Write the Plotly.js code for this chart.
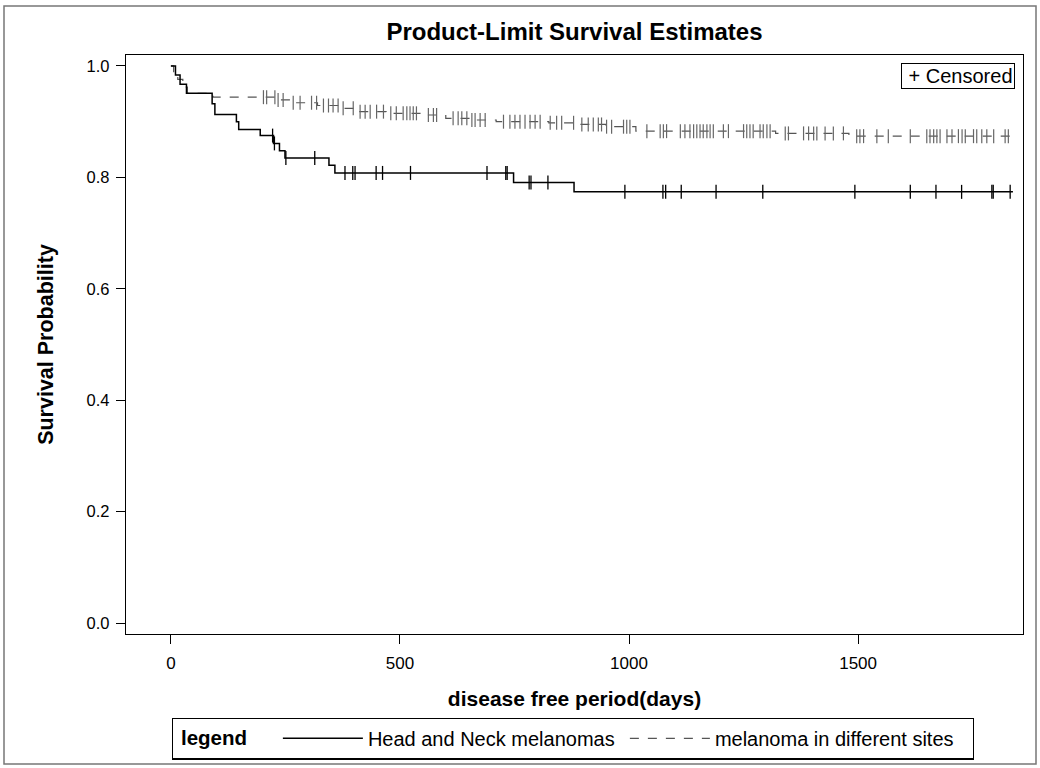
<!DOCTYPE html>
<html>
<head>
<meta charset="utf-8">
<script src="https://cdn.plot.ly/plotly-3.0.1.min.js"></script>
<style>
  html, body { margin: 0; padding: 0; background: #fff; }
  #chart { width: 1040px; height: 768px; }
</style>
</head>
<body>
<div id="chart"></div>
<script>
// ---- Data ----
// Head and Neck melanomas: Kaplan-Meier step points (day, survival after step)
const hnDays = [0, 10, 20, 34, 90, 96, 143, 148, 195, 224, 237, 249, 345, 358, 748, 880];
const hnSurv = [1.0, 0.984, 0.967, 0.951, 0.932, 0.913, 0.900, 0.886, 0.875, 0.861, 0.848, 0.835, 0.822, 0.808, 0.791, 0.774];
const hnEnd = 1838;
const hnCensor = [222, 226, 251, 314, 380, 397, 402, 448, 462, 523, 690, 731, 734, 782, 786, 823, 991, 1074, 1080, 1114, 1190, 1292, 1493, 1614, 1670, 1726, 1792, 1795, 1832];

// Melanoma in different sites
const othDays = [0, 6, 15, 26, 36, 92, 230, 262, 320, 370, 410, 470, 550, 600, 655, 710, 825, 880, 950, 1015, 1320, 1480];
const othSurv = [1.0, 0.988, 0.976, 0.962, 0.951, 0.944, 0.939, 0.934, 0.929, 0.924, 0.918, 0.915, 0.912, 0.906, 0.903, 0.900, 0.898, 0.895, 0.891, 0.883, 0.879, 0.874];
const othEnd = 1840;
const othCensor = [202, 209, 227, 234, 245, 267, 282, 307, 318, 333, 344, 354, 365, 376, 398, 413, 424, 435, 449, 464, 480, 492, 507, 515, 522, 529, 536, 562, 573, 580, 616, 627, 635, 646, 657, 664, 675, 686, 726, 740, 751, 762, 773, 784, 795, 806, 828, 842, 853, 879, 897, 911, 922, 933, 940, 951, 962, 988, 995, 1002, 1039, 1068, 1075, 1082, 1112, 1122, 1133, 1141, 1148, 1155, 1162, 1170, 1177, 1184, 1206, 1217, 1250, 1257, 1264, 1271, 1286, 1293, 1301, 1308, 1341, 1348, 1381, 1392, 1403, 1410, 1428, 1446, 1468, 1497, 1504, 1512, 1541, 1566, 1614, 1650, 1657, 1665, 1672, 1679, 1694, 1705, 1719, 1727, 1734, 1752, 1759, 1770, 1781, 1796, 1821, 1828];

const seriesNames = ['Head and Neck melanomas', 'melanoma in different sites'];
const xTicks = [0, 500, 1000, 1500];
const yTicks = [0.0, 0.2, 0.4, 0.6, 0.8, 1.0];

// ---- helpers ----
function stepValue(days, surv, d) {
  let v = surv[0];
  for (let i = 0; i < days.length; i++) if (days[i] <= d) v = surv[i];
  return v;
}

const FONT = 'Liberation Sans, Arial, sans-serif';

const traces = [
  {
    x: othDays.concat([othEnd]),
    y: othSurv.concat([othSurv[othSurv.length - 1]]),
    mode: 'lines', line: {shape: 'hv', color: '#555', width: 1.2, dash: 'dash'},
    name: seriesNames[1], legendrank: 2, hoverinfo: 'x+y'
  },
  {
    x: hnDays.concat([hnEnd]),
    y: hnSurv.concat([hnSurv[hnSurv.length - 1]]),
    mode: 'lines', line: {shape: 'hv', color: '#000', width: 1.5},
    name: seriesNames[0], legendrank: 1, hoverinfo: 'x+y'
  },
  {
    x: othCensor, y: othCensor.map(d => stepValue(othDays, othSurv, d)),
    mode: 'markers', showlegend: false,
    marker: {symbol: 'line-ns-open', size: 10, color: '#666', line: {color: '#666', width: 1.2}}
  },
  {
    x: hnCensor, y: hnCensor.map(d => stepValue(hnDays, hnSurv, d)),
    mode: 'markers', showlegend: false,
    marker: {symbol: 'line-ns-open', size: 10, color: '#000', line: {color: '#000', width: 1.3}}
  }
];

const W = 1040, H = 768, ML = 126, MR = 17, MT = 55, MB = 134;
const pw = W - ML - MR, ph = H - MT - MB;
const px = v => (v - ML) / pw;          // page x -> paper x
const py = v => (H - MB - v) / ph;      // page y -> paper y

const layout = {
  width: W, height: H,
  margin: {l: ML, r: MR, t: MT, b: MB, autoexpand: false},
  paper_bgcolor: '#fff', plot_bgcolor: '#fff',
  font: {family: FONT, color: '#000', size: 16},
  title: {
    text: '<b>Product-Limit Survival Estimates</b>',
    font: {family: FONT, size: 24, color: '#000'},
    x: 0.5, xref: 'paper', xanchor: 'center', y: 1 - 32 / H, yanchor: 'middle'
  },
  xaxis: {
    range: [-98, 1860], tickvals: xTicks, ticktext: xTicks.map(String),
    ticks: 'outside', ticklen: 9, tickwidth: 1, tickcolor: '#000', ticklabelstandoff: 4,
    showline: true, mirror: true, linecolor: '#000', linewidth: 1.3,
    showgrid: false, zeroline: false,
    tickfont: {family: FONT, size: 17},
    title: {text: '<b>disease free period(days)</b>', font: {family: FONT, size: 21}, standoff: 19}
  },
  yaxis: {
    range: [-0.0197, 1.0197], tickvals: yTicks, ticktext: yTicks.map(v => v.toFixed(1)),
    ticks: 'outside', ticklen: 9, tickwidth: 1, tickcolor: '#000', ticklabelstandoff: 3,
    showline: true, mirror: true, linecolor: '#000', linewidth: 1.3,
    showgrid: false, zeroline: false,
    tickfont: {family: FONT, size: 16.5},
    title: {text: '<b>Survival Probability</b>', font: {family: FONT, size: 21.5}, standoff: 27}
  },
  legend: {
    orientation: 'h', x: px(172), xanchor: 'left', xref: 'paper',
    y: py(717.5), yanchor: 'top', yref: 'paper',
    bordercolor: '#000', borderwidth: 1.3, bgcolor: '#fff',
    font: {family: FONT, size: 20},
    title: {text: '&nbsp;<b>legend</b>&nbsp;&nbsp;&nbsp;&nbsp;', side: 'left', font: {family: FONT, size: 20.5}},
    traceorder: 'normal', itemwidth: 80, entrywidth: 252
  },
  annotations: [{
    text: '&nbsp;+ Censored', xref: 'paper', yref: 'paper',
    x: px(1015), y: py(63), xanchor: 'right', yanchor: 'top',
    showarrow: false, font: {family: FONT, size: 20, color: '#000'},
    bordercolor: '#000', borderwidth: 1, borderpad: 1, bgcolor: '#fff'
  }],
  shapes: [{
    type: 'rect', xref: 'paper', yref: 'paper',
    x0: px(4), x1: px(1036), y0: py(764), y1: py(6),
    line: {color: '#777', width: 1.5}, layer: 'below'
  }]
};

Plotly.newPlot('chart', traces, layout, {displayModeBar: false, staticPlot: true});
</script>
</body>
</html>
